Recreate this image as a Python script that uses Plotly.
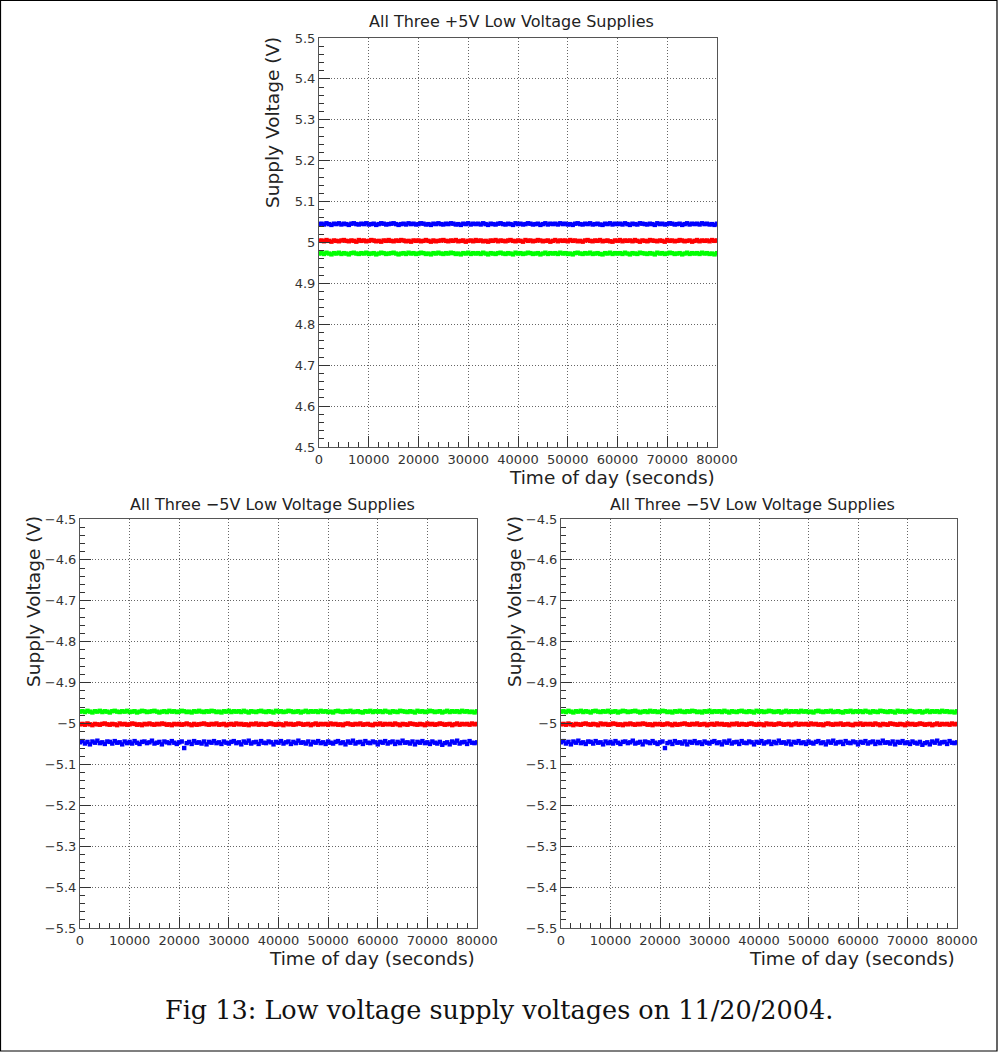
import plotly.graph_objects as go

# ---------------- data (readings in mV relative to nominal) ----------------
SAMPLE_STEP_S = 500  # seconds between readings

# +5V supplies: offsets in mV from +5.000 V
top_blue_mv = [
    45,46,44,47,45,43,46,45,47,44,46,45,43,46,47,45,44,46,45,47,
    44,45,46,43,45,47,46,44,45,46,47,45,43,45,46,44,47,45,46,44,
    45,47,46,44,45,43,46,45,47,45,44,46,45,47,46,44,45,43,46,45,
    47,44,46,45,46,44,47,45,43,46,45,44,46,47,45,44,46,45,43,47,
    45,46,44,45,47,46,44,45,46,43,45,47,44,46,45,46,44,47,45,46,
    44,45,43,46,47,45,44,46,45,47,44,45,46,44,43,46,45,47,44,46,
    45,46,44,47,45,43,46,45,44,47,46,45,44,46,45,43,47,45,46,44,
    45,47,46,44,45,46,43,45,47,44,46,45,46,44,47,45,46,44,45,43,
    46]
top_red_mv = [
    4,5,3,6,4,2,5,4,3,5,6,4,3,5,4,2,6,4,5,3,
    4,6,5,3,4,2,5,4,6,4,3,5,4,6,5,3,4,2,5,4,
    5,3,4,6,4,2,5,3,4,5,6,4,3,5,4,6,3,4,5,2,
    4,5,3,6,4,5,3,4,2,5,4,6,3,5,4,3,5,6,4,3,
    5,4,2,6,4,5,3,4,6,5,3,4,5,2,4,6,3,5,4,5,
    3,6,4,5,3,4,2,5,6,4,3,5,4,6,3,4,5,3,2,5,
    4,6,3,5,4,5,3,6,4,2,5,4,3,6,5,4,3,5,4,2,
    6,4,5,3,4,6,5,3,4,5,2,4,6,3,5,4,5,3,6,4,
    5]
top_green_mv = [
    -27,-26,-28,-25,-27,-29,-26,-27,-25,-28,-26,-27,-29,-26,-25,-27,-28,-26,-27,-25,
    -28,-27,-26,-29,-27,-25,-26,-28,-27,-26,-25,-27,-29,-27,-26,-28,-25,-27,-26,-28,
    -27,-25,-26,-28,-27,-29,-26,-27,-25,-27,-28,-26,-27,-25,-26,-28,-27,-29,-26,-27,
    -25,-28,-26,-27,-26,-28,-25,-27,-29,-26,-27,-28,-26,-25,-27,-28,-26,-27,-29,-25,
    -27,-26,-28,-27,-25,-26,-28,-27,-26,-29,-27,-25,-28,-26,-27,-26,-28,-25,-27,-26,
    -28,-27,-29,-26,-25,-27,-28,-26,-27,-25,-28,-27,-26,-28,-29,-26,-27,-25,-28,-26,
    -27,-26,-28,-25,-27,-29,-26,-27,-28,-25,-26,-27,-28,-26,-27,-29,-25,-27,-26,-28,
    -27,-25,-26,-28,-27,-26,-29,-27,-25,-28,-26,-27,-26,-28,-25,-27,-26,-28,-27,-29,
    -26]

# -5V supplies: offsets in mV from -5.000 V
bot_green_mv = [
    29,30,28,31,29,27,30,29,31,28,30,29,27,30,31,29,28,30,29,31,
    28,29,30,27,29,31,30,28,29,30,31,29,27,29,30,28,31,29,30,28,
    29,31,30,28,29,27,30,29,31,29,28,30,29,31,30,28,29,27,30,29,
    31,28,30,29,30,28,31,29,27,30,29,28,30,31,29,28,30,29,27,31,
    29,30,28,29,31,30,28,29,30,27,29,31,28,30,29,30,28,31,29,30,
    28,29,27,30,31,29,28,30,29,31,28,29,30,28,27,30,29,31,28,30,
    29,30,28,31,29,27,30,29,28,31,30,29,28,30,29,27,31,29,30,28,
    29,31,30,28,29,30,27,29,31,28,30,29,30,28,31,29,30,28,29,27,
    30]
bot_red_mv = [
    -2,-1,-3,0,-2,-4,-1,-2,-3,-1,0,-2,-3,-1,-2,-4,0,-2,-1,-3,
    -2,0,-1,-3,-2,-4,-1,-2,0,-2,-3,-1,-2,0,-1,-3,-2,-4,-1,-2,
    -1,-3,-2,0,-2,-4,-1,-3,-2,-1,0,-2,-3,-1,-2,0,-3,-2,-1,-4,
    -2,-1,-3,0,-2,-1,-3,-2,-4,-1,-2,0,-3,-1,-2,-3,-1,0,-2,-3,
    -1,-2,-4,0,-2,-1,-3,-2,0,-1,-3,-2,-1,-4,-2,0,-3,-1,-2,-1,
    -3,0,-2,-1,-3,-2,-4,-1,0,-2,-3,-1,-2,0,-3,-2,-1,-3,-4,-1,
    -2,0,-3,-1,-2,-1,-3,0,-2,-4,-1,-2,-3,0,-1,-2,-3,-1,-2,-4,
    0,-2,-1,-3,-2,0,-1,-3,-2,-1,-4,-2,0,-3,-1,-2,-1,-3,0,-2,
    -1]
bot_blue_mv = [
    -46,-43,-49,-45,-51,-44,-47,-42,-48,-46,-50,-44,-45,-49,-43,-47,-46,-51,-44,-48,
    -45,-49,-43,-47,-50,-45,-44,-48,-46,-42,-49,-47,-45,-51,-44,-46,-48,-43,-47,-50,
    -46,-44,-60,-48,-45,-50,-43,-47,-46,-49,-44,-51,-45,-47,-43,-48,-46,-50,-44,-47,
    -49,-45,-43,-48,-46,-51,-44,-47,-42,-49,-46,-45,-50,-43,-47,-48,-44,-46,-51,-45,
    -47,-43,-49,-46,-44,-50,-45,-48,-42,-47,-46,-49,-44,-51,-45,-47,-43,-48,-46,-50,
    -44,-47,-49,-45,-43,-48,-46,-51,-44,-47,-42,-49,-46,-45,-50,-43,-47,-48,-44,-46,
    -51,-45,-47,-43,-49,-46,-44,-50,-45,-48,-42,-47,-46,-49,-44,-51,-45,-47,-43,-48,
    -46,-50,-44,-47,-49,-45,-52,-48,-46,-51,-44,-47,-42,-49,-46,-45,-50,-43,-47,-48,
    -46]

x_tickvals = [0, 10000, 20000, 30000, 40000, 50000, 60000, 70000, 80000]
x_ticktext = ["0", "10000", "20000", "30000", "40000", "50000", "60000", "70000", "80000"]
top_y_tickvals = [4.5, 4.6, 4.7, 4.8, 4.9, 5.0, 5.1, 5.2, 5.3, 5.4, 5.5]
top_y_ticktext = ["4.5", "4.6", "4.7", "4.8", "4.9", "5", "5.1", "5.2", "5.3", "5.4", "5.5"]
bot_y_tickvals = [-5.5, -5.4, -5.3, -5.2, -5.1, -5.0, -4.9, -4.8, -4.7, -4.6, -4.5]
bot_y_ticktext = ["\u22125.5", "\u22125.4", "\u22125.3", "\u22125.2", "\u22125.1", "\u22125",
                  "\u22124.9", "\u22124.8", "\u22124.7", "\u22124.6", "\u22124.5"]

top_title = "All Three +5V Low Voltage Supplies"
bot_title = "All Three \u22125V Low Voltage Supplies"
x_title = "Time of day (seconds)"
y_title = "Supply Voltage (V)"
caption = "Fig 13: Low voltage supply voltages on 11/20/2004."

BLUE, RED, GREEN = "#0000ff", "#ff0000", "#00ff00"

# ---------------- figure ----------------
W, H = 998, 1057
def px_x(p): return p / W
def px_y(p): return 1 - p / H

fig = go.Figure()

def add_series(vals_mv, base, color, xa, ya):
    xs = [i * SAMPLE_STEP_S for i in range(len(vals_mv))]
    ys = [base + v / 1000.0 for v in vals_mv]
    fig.add_trace(go.Scatter(x=xs, y=ys, mode="markers", xaxis=xa, yaxis=ya,
                             marker=dict(symbol="square", size=4.4, color=color,
                                         line=dict(width=0)),
                             showlegend=False, hoverinfo="skip", cliponaxis=True))

# top panel
add_series(top_blue_mv, 5.0, BLUE, "x", "y")
add_series(top_red_mv, 5.0, RED, "x", "y")
add_series(top_green_mv, 5.0, GREEN, "x", "y")
# bottom-left and bottom-right panels (same data)
for xa, ya in (("x2", "y2"), ("x3", "y3")):
    add_series(bot_green_mv, -5.0, GREEN, xa, ya)
    add_series(bot_red_mv, -5.0, RED, xa, ya)
    add_series(bot_blue_mv, -5.0, BLUE, xa, ya)

tick_font = dict(family="DejaVu Sans", size=13, color="#333")
GRID_DASH = "1px,2px"

def xaxis(domain, anchor):
    return dict(domain=domain, anchor=anchor, range=[0, 80000],
                tickvals=x_tickvals, ticktext=x_ticktext, tickfont=tick_font,
                ticks="inside", ticklen=11, tickcolor="#333", tickwidth=1,
                minor=dict(ticks="inside", dtick=2000, tick0=0, ticklen=5,
                           tickcolor="#333", showgrid=False),
                showgrid=True, gridcolor="#666", griddash=GRID_DASH, gridwidth=1,
                showline=True, linecolor="#555", linewidth=1, mirror=True,
                zeroline=False, fixedrange=True)

def yaxis(domain, anchor, rng, tv, tt):
    return dict(domain=domain, anchor=anchor, range=rng,
                tickvals=tv, ticktext=tt, tickfont=tick_font,
                ticks="inside", ticklen=11, tickcolor="#333", tickwidth=1,
                minor=dict(ticks="inside", dtick=0.02, ticklen=5,
                           tickcolor="#333", showgrid=False),
                showgrid=True, gridcolor="#666", griddash=GRID_DASH, gridwidth=1,
                showline=True, linecolor="#555", linewidth=1, mirror=True,
                zeroline=False, fixedrange=True)

top_xd = [px_x(319), px_x(717)]
top_yd = [px_y(447), px_y(38)]
bl_xd = [px_x(80), px_x(477)]
br_xd = [px_x(561), px_x(957)]
bot_yd = [px_y(928), px_y(519)]

fig.update_layout(
    width=W, height=H, autosize=False,
    margin=dict(l=0, r=0, t=0, b=0, pad=0, autoexpand=False),
    paper_bgcolor="white", plot_bgcolor="white",
    xaxis=xaxis(top_xd, "y"),
    yaxis=yaxis(top_yd, "x", [4.5, 5.5], top_y_tickvals, top_y_ticktext),
    xaxis2=xaxis(bl_xd, "y2"),
    yaxis2=yaxis(bot_yd, "x2", [-5.5, -4.5], bot_y_tickvals, bot_y_ticktext),
    xaxis3=xaxis(br_xd, "y3"),
    yaxis3=yaxis(bot_yd, "x3", [-5.5, -4.5], bot_y_tickvals, bot_y_ticktext),
)

title_font = dict(family="DejaVu Sans", size=16, color="#222")
axt_font = dict(family="DejaVu Sans", size=18.5, color="#222")
ann = []
# panel titles
ann.append(dict(text=top_title, x=px_x(512), y=px_y(22), font=title_font))
ann.append(dict(text=bot_title, x=px_x(272), y=px_y(505), font=title_font))
ann.append(dict(text=bot_title, x=px_x(752), y=px_y(505), font=title_font))
# x axis titles
ann.append(dict(text=x_title, x=px_x(717), y=px_y(477), xanchor="right", font=axt_font))
ann.append(dict(text=x_title, x=px_x(477), y=px_y(958), xanchor="right", font=axt_font))
ann.append(dict(text=x_title, x=px_x(957), y=px_y(958), xanchor="right", font=axt_font))
# y axis titles
ann.append(dict(text=y_title, x=px_x(272), y=px_y(123), textangle=-90, font=axt_font))
ann.append(dict(text=y_title, x=px_x(33), y=px_y(602), textangle=-90, font=axt_font))
ann.append(dict(text=y_title, x=px_x(514), y=px_y(602), textangle=-90, font=axt_font))
# caption
ann.append(dict(text=caption, x=px_x(499), y=px_y(1010),
                font=dict(family="DejaVu Serif", size=25.5, color="#111")))
for a in ann:
    a.update(xref="paper", yref="paper", showarrow=False)
    a.setdefault("xanchor", "center")
    a.setdefault("yanchor", "middle")
fig.update_layout(annotations=ann)

# outer page frame
fig.add_shape(type="rect", xref="paper", yref="paper",
              x0=px_x(0.5), x1=px_x(997), y0=px_y(1051), y1=px_y(0.5),
              line=dict(color="black", width=1.2), fillcolor="rgba(0,0,0,0)")

fig.write_html("out.html", config={"displayModeBar": False},
               post_script="document.body.style.margin='0';document.body.style.overflow='hidden';")
